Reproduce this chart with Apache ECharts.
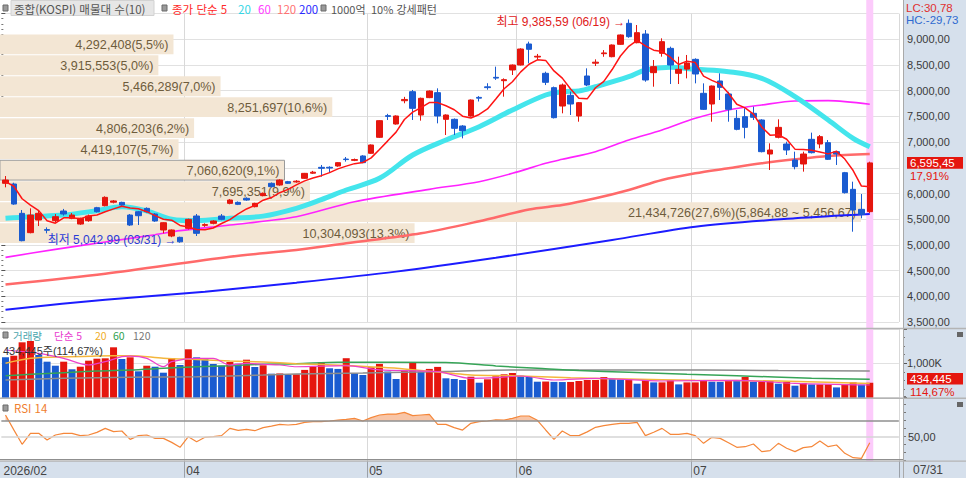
<!DOCTYPE html>
<html lang="ko">
<head>
<meta charset="utf-8">
<title>종합(KOSPI)</title>
<script src="https://cdn.jsdelivr.net/npm/echarts@6.0.0/dist/echarts.min.js"></script>
<style>
html,body{margin:0;padding:0;background:#ffffff;overflow:hidden;}
#chart{width:966px;height:478px;}
</style>
</head>
<body>
<div id="chart"></div>
<script>
// ================= DATA =================
// daily candles: [open, close, low, high]
const ohlc = [
 [6198,6262,6120,6340],[6185,5795,5780,6210],[5614,5082,5070,5679],[5238,5581,5225,5711],[5484,5614,5367,5666],
 [5298,5285,5225,5341],[5471,5549,5440,5600],[5659,5601,5570,5700],[5517,5581,5500,5620],[5406,5517,5390,5530],
 [5471,5562,5450,5590],[5724,5646,5630,5740],[5763,5925,5750,5945],[5830,5855,5808,5873],[5828,5776,5760,5840],
 [5581,5387,5370,5600],[5646,5568,5387,5660],[5711,5646,5630,5730],[5601,5465,5450,5620],[5290,5432,5225,5440],
 [5173,5290,5150,5300],[5147,5060,5042.99,5160],[5322,5497,5300,5510],[5562,5225,5173,5601],[5380,5395,5350,5420],
 [5419,5465,5400,5480],[5562,5497,5480,5600],[5808,5873,5790,5890],[5828,5789,5775,5845],[5906,5873,5860,5925],
 [5744,5808,5730,5820],[5958,6003,5945,6020],[6198,6133,6120,6215],[6165,6262,6150,6275],[6230,6198,6185,6245],
 [6225,6240,6210,6260],[6295,6392,6285,6400],[6395,6415,6380,6440],[6509,6490,6328,6555],[6510,6495,6400,6530],
 [6535,6600,6520,6610],[6670,6660,6620,6710],[6645,6660,6630,6680],[6730,6600,6590,6745],[6782,6944,6770,6955],
 [7093,7417,7080,7425],[7515,7500,7430,7550],[7352,7508,7340,7520],[7805,7830,7755,7880],[7981,7657,7430,8014],
 [7527,7852,7417,7865],[7865,7994,7855,8005],[7962,7508,7365,8046],[7443,7527,7138,7540],[7443,7268,7138,7460],
 [7313,7222,7073,7330],[7508,7819,7495,7830],[7870,7855,7790,7895],[8075,8060,8020,8145],[8260,8245,8210,8468],
 [8195,8215,7884,8240],[8403,8500,8305,8510],[8500,8811,8490,8825],[8909,8805,8533,8954],[8655,8670,8610,8715],
 [8338,8163,8110,8370],[8059,7475,7460,8080],[7702,8111,7560,8140],[7910,7741,7527,7981],[7508,7767,7397,7780],
 [8286,8111,8090,8435],[8535,8555,8480,8610],[8720,8735,8660,8790],[8662,8889,8650,8900],[8902,9084,8890,9095],
 [9311,9051,9030,9385.59],[8934,9129,8922,9278],[9103,8208,8175,9180],[8351,8468,8078,8597],[8727,8954,8662,9019],
 [8824,8500,8130,8857],[8338,8416,8130,8662],[8420,8540,8240,8695],[8610,8325,8143,8630],[7949,7637,7625,8143],
 [7741,8091,7397,8100],[8189,8065,7819,8338],[7936,7637,7397,7980],[7462,7248,7230,7625],[7495,7287,7073,7657],
 [7560,7482,7430,7690],[7430,6814,6800,7445],[6768,6846,6457,6976],[7093,7287,7073,7443],[6963,6846,6749,7008],
 [6652,6522,6470,6814],[6574,6768,6425,6814],[7054,6794,6780,7184],[6963,7106,6880,7138],[6989,6665,6652,7041],
 [6814,6768,6555,6830],[6405,6016,6000,6420],[6081,5679,5257,6230],[5692,5593.6,5517,5990],[5647,6595.45,5620,6619]
];
// closes of the four sessions before the first visible one (for the 5-day average)
const priorCloses = [6250, 6300, 6200, 6150];

// traded volume per session
const volumes = [
 1174000,1221000,1610000,1648000,1241000,1047000,930000,1047000,826000,901000,
 1076000,1134000,1145000,1465000,1125000,1174000,767000,930000,901000,727000,
 1145000,951000,1407000,1174000,1145000,980000,930000,1038000,988000,1105000,
 892000,942000,698000,705000,660000,680000,808000,895000,1032000,855000,
 837000,1148000,709000,660000,884000,983000,759000,544000,776000,1021000,
 759000,837000,895000,564000,544000,515000,610000,436000,535000,622000,
 680000,718000,640000,630000,465000,470000,460000,455000,458000,485000,
 515000,515000,602000,573000,535000,535000,407000,515000,445000,445000,
 506000,387000,445000,445000,515000,465000,460000,515000,510000,602000,
 465000,485000,485000,407000,465000,349000,427000,387000,387000,387000,
 299000,387000,445000,378866,434445
];
const volumePrior = 1250000;

// RSI(14)
const rsi14 = [
 77.1,58.5,40.5,54.2,54.2,45.9,52.1,54.2,54.2,51.3,
 52.1,55.4,60.4,56.3,57.1,46.7,51.3,52.1,47.9,47.9,
 42.9,36.7,50.0,43.8,49.2,50.0,51.3,60.4,57.9,59.2,
 57.5,61.3,63.3,65.4,64.6,65.4,67.9,68.8,68.8,69.6,
 70.8,71.7,72.9,69.6,73.8,77.1,78.3,78.3,80.4,76.3,
 77.1,77.9,65.4,65.4,61.3,58.3,66.7,68.8,69.6,71.2,
 70.9,73.0,75.9,75.9,70.5,58.4,46.7,57.1,51.3,51.3,
 56.0,61.7,63.8,65.4,66.7,66.7,67.9,51.3,55.5,60.4,
 53.0,53.0,54.2,51.3,41.7,49.2,47.9,42.5,36.7,37.5,
 40.9,31.3,32.6,41.7,35.5,31.3,36.3,37.5,44.6,37.5,
 39.6,29.2,23.8,22.9,42.5
];

// moving-average lines: [session index, value]
const ma20Points = [[0,5517],[3,5549],[7,5581],[11,5666],[14,5740],[17,5660],[20,5500],[23,5471],[27,5517],[31,5560],
 [35,5711],[38,5880],[41,6068],[45,6295],[49,6749],[53,7041],[57,7300],[61,7625],[65,7916],[67,7981],[69,7995],
 [71,8078],[75,8273],[77,8403],[80,8455],[83,8416],[87,8370],[91,8241],[95,7884],[99,7430],[102,7073],[104,6911]];
const ma60Points = [[0,4758],[6,4913],[12,5056],[18,5199],[21,5277],[27,5387],[35,5549],[42,5840],[51,6081],[57,6230],
 [61,6392],[65,6587],[67,6665],[71,6814],[75,7041],[79,7235],[83,7462],[87,7624],[91,7722],[95,7800],[99,7806],[104,7735]];
const ma120Points = [[0,4230],[12,4440],[27,4771],[35,4900],[41,5031],[50,5226],[57,5460],[63,5690],[67,5776],[71,5906],
 [75,6068],[79,6263],[83,6392],[87,6490],[91,6587],[95,6665],[99,6730],[104,6769]];
const ma200Points = [[0,3740],[12,3935],[24,4090],[35,4265],[47,4480],[59,4750],[73,5095],[83,5354],[95,5517],[104,5600]];

const volMa5Points = [[0,1387000],[4,1290000],[7,1145000],[10,951000],[12,1047000],[14,1192000],[15,1210000],[17,1145000],
 [19,901000],[20,1047000],[23,1145000],[25,1145000],[27,951000],[29,1000000],[31,971000],[33,951000],[35,900000],[41,933000],
 [45,808000],[52,759000],[56,564000],[59,581000],[62,631000],[66,515000],[71,564000],[79,485000],[88,506000],[95,416000],[104,369000]];
const volMa20Points = [[0,1000000],[3,1145000],[7,1192000],[11,1210000],[15,1220000],[19,1150000],[23,1110000],[27,1070000],
 [31,1040000],[35,990000],[41,933000],[48,837000],[56,660000],[61,640000],[68,581000],[75,544000],[83,506000],[93,485000],[104,416000]];
const volMa60Points = [[0,640000],[3,680000],[7,727000],[11,776000],[15,805000],[19,855000],[23,901000],[27,930000],[31,971000],
 [35,985000],[40,1032000],[53,1021000],[59,924000],[64,855000],[69,788000],[75,738000],[82,680000],[88,640000],[97,564000],[104,535000]];
const volMa120Points = [[0,515000],[7,564000],[15,593000],[23,610000],[31,660000],[35,690000],[43,720000],[53,759000],
 [61,808000],[69,808000],[84,808000],[93,788000],[104,776000]];

// volume profile (매물대, 10 bands from the lowest close upward)
const profileLow = 5048.46;
const profileStep = 408.21;
const profileVolumes = [10304093, 21434726, 7695351, 7060620, 4419107, 4806203, 8251697, 5466289, 3915553, 4292408];
const profilePcts = [13.3, 27.6, 9.9, 9.1, 5.7, 6.2, 10.6, 7.0, 5.0, 5.5];

// time axis
const monthLabels = ['2026/02', '04', '05', '06', '07'];
const monthStartIndex = [0, 22, 44, 62, 83];
const lastDateLabel = '07/31';

// axis ticks
const priceMin = 3500, priceMax = 9500, priceStep = 500;
const volumeMax = 2000000, volumeStep = 1000000;
const rsiMin = 20, rsiMax = 100, rsiStep = 10;
const rsiUpperLevel = 70, rsiMidLevel = 50;

// annotations
const highInfo = { index: 75, value: 9385.59, date: '06/19' };
const lowInfo = { index: 21, value: 5042.99, date: '03/31' };
const lcValue = 30.78, hcValue = -29.73;
const priceChangePct = 17.91;
const volumeRatioPct = 114.67;

// ================= HELPERS =================
function fmtNum(v, dec) {
  const s = Math.abs(v).toFixed(dec);
  const parts = s.split('.');
  const ip = parts[0].replace(/\B(?=(\d{3})+(?!\d))/g, ',');
  return (v < 0 ? '-' : '') + ip + (parts[1] ? ',' + parts[1] : '');
}
const UP = '#e5160e', DOWN = '#1a5bd0';
const NUM = '"Liberation Sans", "Noto Sans CJK KR", sans-serif';
const CJK = '"Noto Sans CJK KR", "Liberation Sans", sans-serif';

const nBars = ohlc.length;
const SLOTS = nBars + 3;
const categories = Array.from({ length: SLOTS }, (_, i) => 'd' + i);
const closes = ohlc.map(d => d[1]);
const lastClose = closes[nBars - 1];
const lastVolume = volumes[nBars - 1];

const allCloses = priorCloses.concat(closes);
const ma5 = closes.map((_, i) => {
  let s = 0;
  for (let k = i; k < i + 5; k++) s += allCloses[k];
  return +(s / 5).toFixed(2);
});

const maxBand = profileVolumes.indexOf(Math.max.apply(null, profileVolumes));
const profileData = profileVolumes.map((v, k) => [v, profileLow + profileStep * k, profileLow + profileStep * (k + 1)]);

const isBoundary = (i) => monthStartIndex.indexOf(i) > 0;

// layout
const PL = 1.35, PW = 897.5, AXIS_OFFSET = 4.15;
const gridMain = { left: PL, top: 13.6, width: PW, height: 308.4 };
const gridVol = { left: PL, top: 328.9, width: PW, height: 68.8 };
const gridRsi = { left: PL, top: 396.7, width: PW, height: 64 };
const gridAll = { left: PL, top: 0, width: PW, height: 461 };

function catAxis(gridIndex, extra) {
  return Object.assign({
    type: 'category', gridIndex, data: categories, boundaryGap: true,
    axisLine: { show: false }, axisTick: { show: false }, axisLabel: { show: false },
    splitLine: { show: true, interval: (i) => isBoundary(i), lineStyle: { color: '#d9d9d9', width: 1 } }
  }, extra || {});
}

function lineSeries(name, points, color, width, xi, yi, z, smooth) {
  return {
    name, type: 'line', xAxisIndex: xi, yAxisIndex: yi, data: points, showSymbol: false, symbol: 'none',
    smooth: smooth, connectNulls: true, silent: true, z,
    lineStyle: { color, width }, emphasis: { disabled: true }
  };
}

function renderProfileBand(params, api) {
  const vol = api.value(0), lo = api.value(1), hi = api.value(2);
  const k = params.dataIndex;
  const tl = api.coord([0, hi]);
  const br = api.coord([vol, lo]);
  const top = tl[1] + 1.8, bottom = br[1] + 0.6;
  const isCurrent = lastClose >= lo && lastClose < hi;
  let label = fmtNum(vol, 0) + '(' + fmtNum(profilePcts[k], 1) + '%)';
  if (k === maxBand) label += '(' + fmtNum(hi, 2) + ' ~ ' + fmtNum(lo, 2) + ')';
  return {
    type: 'group',
    children: [
      { type: 'rect', shape: { x: tl[0] - 1.4, y: top, width: br[0] - tl[0] + 1.4, height: bottom - top },
        style: { fill: '#f3e6d4', stroke: isCurrent ? '#9a9a9a' : null, lineWidth: 1 } },
      { type: 'text', x: br[0] - 5, y: (top + bottom) / 2 + 0.5,
        style: { text: label, align: 'right', verticalAlign: 'middle', fill: '#6e5c3c', font: '12.6px ' + NUM } }
    ]
  };
}

function renderRsiFill(params, api) {
  const level = rsiUpperLevel;
  const polys = [];
  let cur = null;
  const baseY = api.coord([0, level])[1];
  for (let i = 0; i < rsi14.length; i++) {
    const v = rsi14[i];
    const p = api.coord([i, v]);
    if (i > 0) {
      const u = rsi14[i - 1];
      if ((u > level) !== (v > level)) {
        const q = api.coord([i - 1, u]);
        const t = (level - u) / (v - u);
        const cx = q[0] + t * (p[0] - q[0]);
        if (cur) { cur.push([cx, baseY]); polys.push(cur); cur = null; }
        else { cur = [[cx, baseY]]; }
      }
    } else if (v > level) {
      cur = [[p[0], baseY]];
    }
    if (cur && v > level) cur.push(p);
  }
  if (cur) { const last = cur[cur.length - 1]; cur.push([last[0], baseY]); polys.push(cur); }
  return {
    type: 'group',
    children: polys.map(pts => ({ type: 'polygon', shape: { points: pts }, style: { fill: 'rgba(243,150,95,0.55)' } }))
  };
}

// ================= OPTION =================
const option = {
  animation: false,
  backgroundColor: '#ffffff',
  textStyle: { fontFamily: NUM },
  grid: [
    Object.assign({}, gridMain),
    Object.assign({}, gridVol),
    Object.assign({}, gridRsi),
    Object.assign({}, gridAll)
  ],
  xAxis: [
    catAxis(0),
    { type: 'value', gridIndex: 0, min: 0, max: 22380000, show: false, position: 'top', splitLine: { show: false } },
    catAxis(1),
    catAxis(2, {
      axisLine: { show: false },
      axisTick: { show: true, interval: (i) => isBoundary(i), length: 17, lineStyle: { color: '#9aa0a8' } },
      axisLabel: {
        show: true, interval: (i) => monthStartIndex.indexOf(i) >= 0,
        formatter: (val, idx) => { const k = monthStartIndex.indexOf(idx); return k >= 0 ? monthLabels[k] : ''; },
        align: 'left', margin: 4, padding: [0, 0, 0, -2], color: '#444', fontSize: 12, fontFamily: NUM
      }
    }),
    { type: 'category', gridIndex: 3, data: categories, show: false }
  ],
  yAxis: [
    {
      type: 'value', gridIndex: 0, position: 'right', offset: AXIS_OFFSET,
      min: priceMin, max: priceMax, interval: priceStep,
      axisLine: { show: false },
      axisTick: { show: true, length: 4, lineStyle: { color: '#555' } },
      minorTick: { show: true, splitNumber: 5, length: 2, lineStyle: { color: '#777' } },
      axisLabel: { show: true, showMaxLabel: false, margin: 4, color: '#3a3a3a', fontSize: 11, fontFamily: NUM,
        // the current-price box covers the label next to it
        formatter: (v) => Math.abs(v - lastClose) < 250 ? '' : fmtNum(v, 2) },
      splitLine: { show: true, lineStyle: { color: '#e1e1e1', width: 1 } }
    },
    {
      type: 'value', gridIndex: 1, position: 'right', offset: AXIS_OFFSET,
      min: 0, max: volumeMax, interval: volumeStep,
      axisLine: { show: false },
      axisTick: { show: true, length: 4, lineStyle: { color: '#555' } },
      minorTick: { show: true, splitNumber: 4, length: 2, lineStyle: { color: '#777' } },
      axisLabel: { show: true, showMinLabel: false, showMaxLabel: false, margin: 4, color: '#3a3a3a', fontSize: 11, fontFamily: NUM,
        formatter: (v) => v === volumeStep ? fmtNum(v / 1000, 0) + 'K' : '' },
      splitLine: { show: true, lineStyle: { color: '#e1e1e1', width: 1 } }
    },
    {
      type: 'value', gridIndex: 2, position: 'right', offset: AXIS_OFFSET,
      min: rsiMin, max: rsiMax, interval: rsiStep,
      axisLine: { show: false },
      axisTick: { show: true, length: 3, lineStyle: { color: '#777' } },
      axisLabel: { show: true, margin: 5, color: '#3a3a3a', fontSize: 11, fontFamily: NUM,
        formatter: (v) => v === rsiMidLevel ? fmtNum(v, 2) : '' },
      splitLine: { show: false }
    },
    { type: 'value', gridIndex: 3, min: 0, max: 1, show: false }
  ],
  series: [
    // highlight of the last session (pink column through all panels)
    {
      name: 'today', type: 'bar', xAxisIndex: 4, yAxisIndex: 3, silent: true, z: 0, barWidth: 7,
      data: categories.map((_, i) => i === nBars - 1 ? 1 : null),
      itemStyle: { color: '#fccbfb' }, emphasis: { disabled: true }
    },
    // volume profile bands
    {
      name: '매물대', type: 'custom', xAxisIndex: 1, yAxisIndex: 0, z: 1, silent: true, clip: false,
      renderItem: renderProfileBand, data: profileData, encode: { x: 0, y: [1, 2] }
    },
    lineSeries('200', ma200Points, '#1c1cff', 2, 0, 0, 3, 0.3),
    lineSeries('120', ma120Points, '#ff6a6a', 2.5, 0, 0, 3, 0.3),
    lineSeries('60', ma60Points, '#ff22ff', 1.6, 0, 0, 3, 0.3),
    lineSeries('20', ma20Points, '#44e5ec', 5, 0, 0, 3, 0.35),
    {
      name: '종합(KOSPI)', type: 'candlestick', xAxisIndex: 0, yAxisIndex: 0, z: 4, barWidth: 6, silent: true,
      data: ohlc.map(d => [d[0], d[1], d[2], d[3]]),
      itemStyle: { color: UP, color0: DOWN, borderColor: UP, borderColor0: DOWN, borderWidth: 1 },
      markPoint: {
        symbol: 'circle', symbolSize: 1, silent: true, animation: false,
        itemStyle: { color: 'rgba(0,0,0,0)' },
        data: [
          { coord: [highInfo.index, highInfo.value],
            label: { show: true, position: 'left', distance: 3, offset: [0, 2.5], color: '#e0201a', fontSize: 12, fontFamily: NUM,
              formatter: '최고 ' + fmtNum(highInfo.value, 2) + ' (' + highInfo.date + ') →' } },
          { coord: [lowInfo.index, lowInfo.value],
            label: { show: true, position: 'left', distance: 3, offset: [0, -2.5], color: '#2b3bd6', fontSize: 12, fontFamily: NUM,
              formatter: '최저 ' + fmtNum(lowInfo.value, 2) + ' (' + lowInfo.date + ') →' } }
        ]
      }
    },
    lineSeries('5', ma5, '#ff1414', 1.5, 0, 0, 5, false),
    // volume
    {
      name: '거래량', type: 'bar', xAxisIndex: 2, yAxisIndex: 1, z: 3, barWidth: 7, silent: true,
      data: volumes.map((v, i) => ({ value: v, itemStyle: { color: v >= (i ? volumes[i - 1] : volumePrior) ? UP : DOWN } }))
    },
    lineSeries('v120', volMa120Points, '#8c8c8c', 1.5, 2, 1, 4, 0.3),
    lineSeries('v60', volMa60Points, '#36a457', 1.5, 2, 1, 4, 0.3),
    lineSeries('v20', volMa20Points, '#f4b63c', 1.5, 2, 1, 4, 0.3),
    lineSeries('v5', volMa5Points, '#ec40cc', 1.2, 2, 1, 4, 0.3),
    // RSI
    {
      name: 'RSI fill', type: 'custom', xAxisIndex: 3, yAxisIndex: 2, z: 3, silent: true,
      renderItem: renderRsiFill, data: [[0, rsiUpperLevel]]
    },
    {
      name: 'RSI 14', type: 'line', xAxisIndex: 3, yAxisIndex: 2, z: 4, silent: true, symbol: 'none', showSymbol: false,
      data: rsi14, lineStyle: { color: '#f5873a', width: 1.2 }, emphasis: { disabled: true },
      markLine: {
        silent: true, symbol: 'none', animation: false, label: { show: false },
        data: [
          { yAxis: rsiUpperLevel, lineStyle: { color: '#8f8f8f', width: 1.5, type: 'solid' } },
          { yAxis: rsiMidLevel, lineStyle: { color: '#d4d4d4', width: 1.5, type: 'solid' } }
        ]
      }
    }
  ]
};

const chart = echarts.init(document.getElementById('chart'), null, { renderer: 'svg', width: 966, height: 478 });
chart.setOption(option);

// ================= FRAME, LEGENDS, AXIS VALUE BOXES =================
const py = chart.convertToPixel({ yAxisIndex: 0 }, lastClose);
const vy = chart.convertToPixel({ yAxisIndex: 1 }, lastVolume) - 4;

function T(x, y, text, fill, size, family, z) {
  return { type: 'text', x, y, silent: true, z: z || 60,
    style: { text, fill, font: size + 'px ' + family, lineHeight: size, align: 'left', verticalAlign: 'middle' } };
}
function R(x, y, w, h, fill, stroke, z) {
  return { type: 'rect', silent: true, z: z == null ? 60 : z, shape: { x, y, width: w, height: h },
    style: { fill, stroke: stroke || null, lineWidth: 1 } };
}
function L(x1, y1, x2, y2, stroke, w, z) {
  return { type: 'line', silent: true, z: z || 55, shape: { x1, y1, x2, y2 }, style: { stroke, lineWidth: w } };
}
const STRIP = '#d6e0ec';
const SQ = (x, y) => R(x, y, 5, 6, '#9a9a9a', '#6a6a6a');
const LF = 11;

const elements = [
  // axis strips
  R(903, 0, 63, 478, STRIP, null, -5),
  R(0, 461, 903, 17, STRIP, null, -5),
  // separators
  L(903.5, 0, 903.5, 478, '#a9a9a9', 1),
  L(0, 328.5, 966, 328.5, '#b4b4b4', 1.5),
  L(0, 398.3, 966, 398.3, '#b4b4b4', 1.5),
  L(0, 459.6, 903, 459.6, '#8f8f8f', 1.2),
  L(0, 461.2, 966, 461.2, '#b4b4b4', 1.2),
  // top legend
  SQ(3, 5),
  R(11, 0.5, 143, 15, '#e6e6e6', '#d2d2d2'),
  T(14, 8.5, '종합(KOSPI) 매물대 수(10)', '#555555', 11.5, CJK, 61),
  SQ(162, 5),
  T(172, 8.5, '종가 단순 5', '#ff2a2a', LF + 0.5, CJK),
  T(238, 8.5, '20', '#33d6e6', LF + 0.5, CJK),
  T(258, 8.5, '60', '#ff3cff', LF + 0.5, CJK),
  T(277, 8.5, '120', '#ff7272', LF + 0.5, CJK),
  T(299, 8.5, '200', '#2a2aff', LF + 0.5, CJK),
  SQ(321, 5),
  T(331, 8.5, '1000억', '#555555', LF, CJK),
  T(371, 8.5, '10% 강세패턴', '#555555', LF, CJK),
  // volume legend
  SQ(3, 332),
  T(13, 335.5, '거래량', '#4aa5ad', 10.5, CJK),
  T(54, 335.5, '단순 5', '#e83ccf', 10.5, CJK),
  T(95, 335.5, '20', '#f0ae2a', 10.5, CJK),
  T(113, 335.5, '60', '#2ea150', 10.5, CJK),
  T(133, 335.5, '120', '#777777', 10.5, CJK),
  T(3, 351, fmtNum(lastVolume, 0) + '주(' + fmtNum(volumeRatioPct, 2) + '%)', '#333333', 11, NUM),
  // RSI legend
  SQ(3, 405),
  T(14, 408, 'RSI 14', '#f08030', 11.5, CJK),
  // right axis annotations
  T(906, 7.5, 'LC:' + fmtNum(lcValue, 2), '#e03030', 11.5, NUM),
  T(906, 19.8, 'HC:' + fmtNum(hcValue, 2), '#2f6ad0', 11.5, NUM),
  R(907, py - 5.8, 56, 11.6, UP, null, 60),
  T(910, py + 0.2, fmtNum(lastClose, 2), '#ffffff', 11.5, NUM, 61),
  T(910, py + 12.8, fmtNum(priceChangePct, 2) + '%', UP, 11.5, NUM),
  R(907, vy - 5.8, 56, 11.6, UP, null, 60),
  T(910, vy + 0.2, fmtNum(lastVolume, 0), '#ffffff', 11.5, NUM, 61),
  T(910, vy + 12.8, fmtNum(volumeRatioPct, 2) + '%', UP, 11.5, NUM),
  R(957, 332, 6, 5, '#666666', null, 60),
  R(957, 402, 6, 5, '#666666', null, 60),
  T(913, 469.5, lastDateLabel, '#444444', 12, NUM)
];
chart.setOption({ graphic: { elements } });
</script>
</body>
</html>
